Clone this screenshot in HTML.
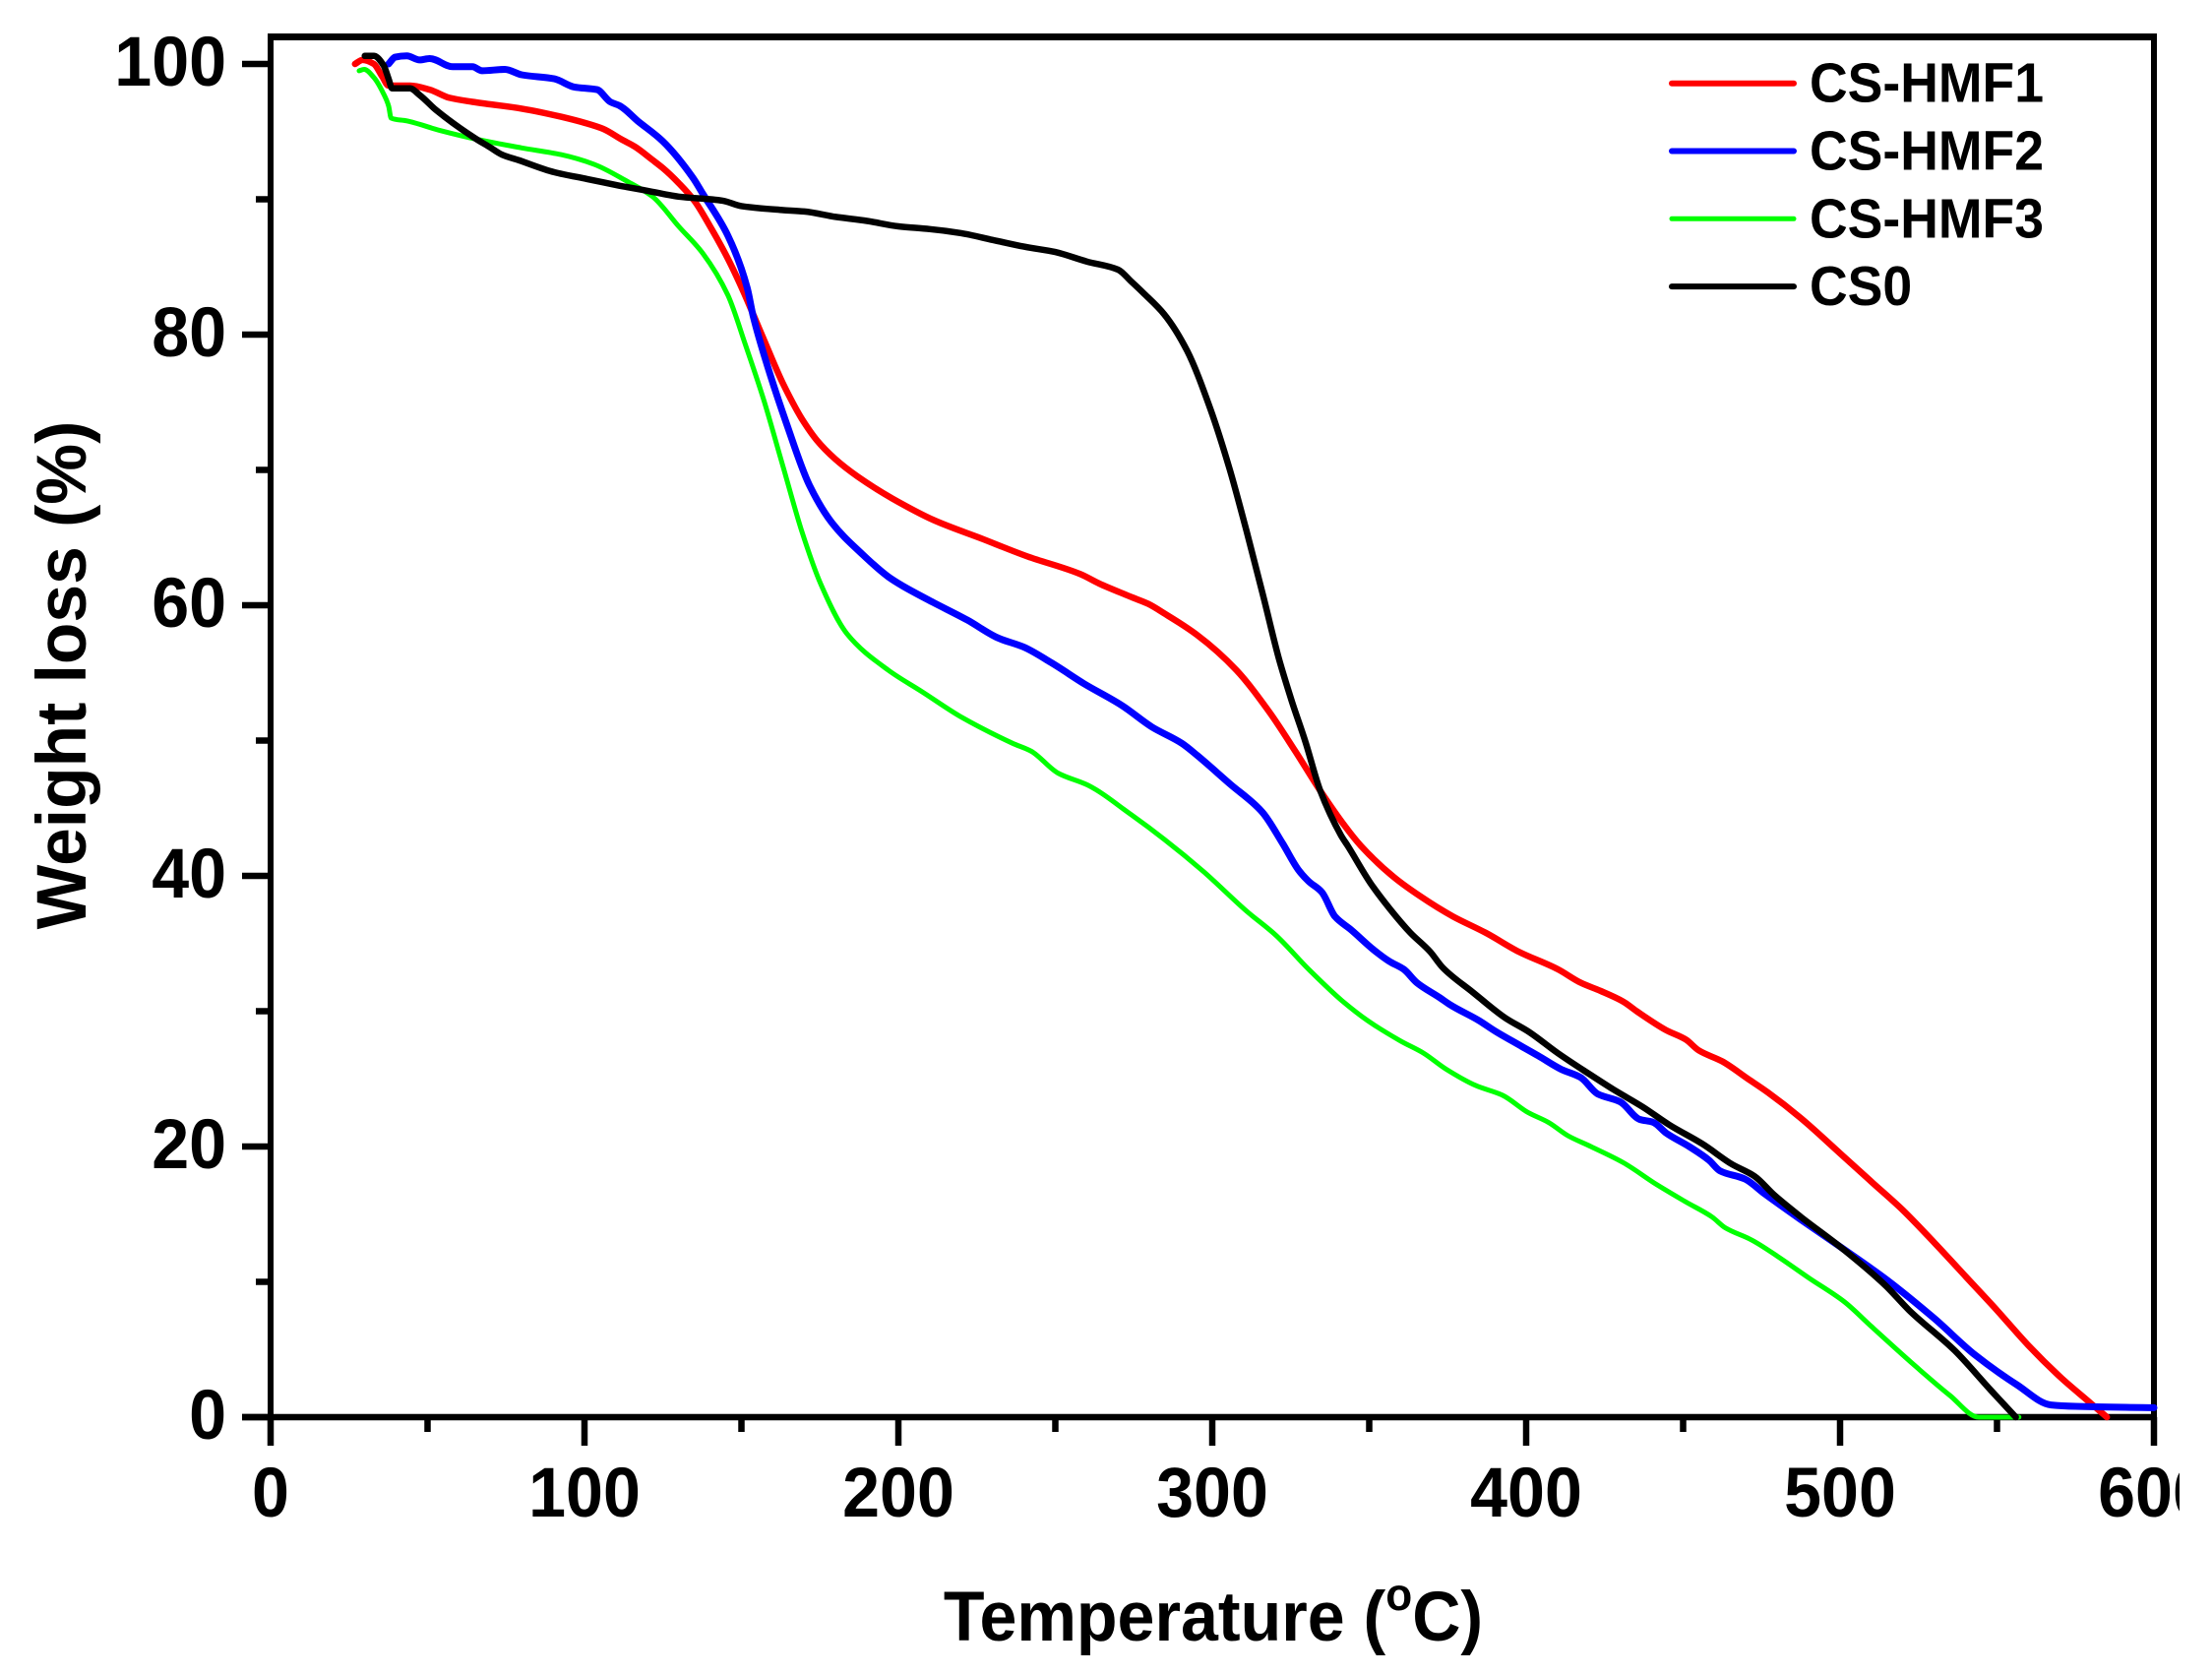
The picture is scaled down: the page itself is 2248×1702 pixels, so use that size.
<!DOCTYPE html>
<html lang="en">
<head>
<meta charset="utf-8">
<title>Weight loss vs temperature</title>
<style>
html,body{margin:0;padding:0;background:#fff;width:2248px;height:1702px;overflow:hidden}
svg{display:block}
text{font-family:"Liberation Sans",Arial,sans-serif;font-weight:700;fill:#000}
</style>
</head>
<body>
<svg id="chart" xmlns="http://www.w3.org/2000/svg" width="2248" height="1702" viewBox="0 0 2248 1702">
  <rect width="2248" height="1702" fill="#fff"/>
  <g id="axes"></g>
  <g id="series"></g>
  <g id="legend"></g>
  <text transform="translate(1233 1667) scale(0.96 1)" font-size="71" text-anchor="middle">Temperature (<tspan dy="-31" font-size="46">o</tspan><tspan dy="31">C)</tspan></text>
  <text transform="translate(87 686) rotate(-90) scale(0.98 1)" font-size="71" text-anchor="middle">Weight loss (%)</text>
  <rect x="2215" y="0" width="33" height="1702" fill="#fff"/>
</svg>
<script>
const xMajorTicks = [0, 100, 200, 300, 400, 500, 600];
const xMinorTicks = [50, 150, 250, 350, 450, 550];
const yMajorTicks = [0, 20, 40, 60, 80, 100];
const yMinorTicks = [10, 30, 50, 70, 90];

const hmf1Temps = [26.9,29.3,32.9,35.5,37.6,44.4,50.7,57,64.3,80,92.5,100.8,106,112,116,121.7,125,130,135,140,145.7,150.6,157.2,163.2,169.2,174,179.9,187.1,198,211.2,226.8,241.2,258,264,274.3,279.6,284.7,295.2,307.7,318.2,326.5,334.4,342.2,347.4,357.9,366.2,376.7,387.1,397.6,410.1,417.4,423.7,431,435.2,444.6,450.9,455,462.4,470.7,477,487.5,500,510,520,530,540,550,560,570,580,585];
const hmf1Weights = [100,100.3,100,99.1,98.4,98.4,98.1,97.5,97.2,96.7,96.1,95.6,95.2,94.4,93.9,92.9,92.3,91.2,89.9,88.0,85.6,83.2,79.6,76.4,73.8,72.2,70.8,69.5,67.9,66.3,64.9,63.6,62.3,61.6,60.6,60.1,59.4,57.8,55.2,52.1,49.2,46.3,43.7,42.2,39.9,38.5,37,35.8,34.4,33.1,32.1,31.5,30.7,30,28.6,27.9,27.1,26.3,25,24,22.1,19.5,17.4,15.3,12.9,10.4,7.9,5.3,3,1,0];

const hmf2Temps = [37.6,39.7,43.4,47.5,50.7,58,64.3,67.4,74.6,80,90.4,96.7,104,108.2,111.3,116.9,124.9,134.5,137.7,145.7,151.8,153.6,158.4,164.4,171.6,178.8,188.4,196.8,201.6,211.2,222,231.6,240,248.4,259.2,271.2,280.8,290.3,295.2,305.6,316,322.4,327.6,330.7,334.9,339.1,344.3,351.6,356.3,361,365.2,372.5,375.6,385,390.3,398.6,403.9,411.2,417.4,422.7,430,436.2,440.4,444.6,451.9,458.2,461.8,469.7,476,487.5,500,514.6,530,543,556.3,567.2,575,600];
const hmf2Weights = [100,100.5,100.6,100.3,100.4,99.8,99.8,99.5,99.6,99.2,98.9,98.3,98.1,97.2,96.9,95.8,94.3,91.6,90.4,87.3,83.5,81.5,77.6,73.4,68.9,66.1,63.8,62.1,61.4,60.2,58.9,57.6,56.9,55.8,54.2,52.6,51,49.8,48.9,46.8,44.7,42.4,40.4,39.6,38.8,37,36,34.5,33.7,33.1,32.1,31,30.5,29.3,28.5,27.4,26.7,25.7,25.1,23.9,23.3,22,21.8,21,20,19,18.2,17.6,16.5,14.6,12.6,10.2,7.3,4.6,2.4,0.9,0.8,0.7];

const hmf3Temps = [28.2,29.8,32.9,36,37.6,38.4,43.4,53.8,66.4,80,92.5,102.9,113.8,121.7,130,137.7,145.7,151.2,157.2,163.2,169.2,175.2,183.6,196.8,207.6,219.6,236.4,242.4,250.8,260.4,274.3,284.7,297.3,310.9,320.3,330.7,341.2,349.5,360,367.3,374.6,384,392.4,400.7,407,413.3,420.6,431,441.5,450.9,459.2,463.4,471.8,480,490,501.5,510,523.4,535,544.2,557];
const hmf3Weights = [99.5,99.6,99.0,97.8,96.9,96,95.8,95.1,94.4,93.8,93.3,92.6,91.3,90.2,88.0,86,82.9,79.3,75.1,70.3,65.5,61.6,57.9,55.2,53.6,51.8,49.8,49.2,47.6,46.7,44.5,42.7,40.3,37.4,35.6,33.1,30.8,29.3,27.8,26.9,25.7,24.5,23.8,22.5,21.8,20.8,20,18.8,17.2,15.9,14.8,14,13.1,11.9,10.3,8.5,6.7,3.9,1.6,0,0];

const cs0Temps = [30,32.9,36,37.6,38.7,44.4,47.5,52.7,65.2,69.5,73.7,78.9,90.4,100.8,111.3,118.5,130,144,150,163.3,170,180,190,200,210,220,230,240,250,260,270,274.3,278.4,284.7,292,299.4,305.6,310.9,316,321.3,325.5,329.7,334.4,341,343.2,350.6,356.8,363.1,369.4,373.5,383,393.4,400.7,410.1,418.5,427.9,437.3,445.6,456.1,465.5,472.8,479.1,487.5,500,514.6,522,536.6,548,556];
const cs0Weights = [100.6,100.6,99.9,98.9,98.2,98.2,97.7,96.6,94.5,93.9,93.3,92.9,92,91.5,91,90.7,90.2,89.9,89.5,89.2,89.1,88.7,88.4,88.0,87.8,87.5,87.0,86.5,86.1,85.4,84.8,83.9,83.0,81.5,78.8,74.5,70,65.5,60.9,56,52.8,49.9,46.3,43,42.2,39.4,37.5,35.8,34.4,33.2,31.4,29.5,28.5,26.9,25.6,24.2,22.9,21.6,20.2,18.7,17.8,16.4,14.8,12.6,9.7,7.9,4.9,2.0,0];

const seriesNames = ['CS-HMF1', 'CS-HMF2', 'CS-HMF3', 'CS0'];
const seriesTemps = [hmf1Temps, hmf2Temps, hmf3Temps, cs0Temps];
const seriesWeights = [hmf1Weights, hmf2Weights, hmf3Weights, cs0Weights];
const seriesColors = ['#ff0000', '#0000ff', '#00ff00', '#000000'];
const seriesWidths = [6.5, 7, 5, 6.5];

const NS = 'http://www.w3.org/2000/svg';
const plotLeft = 275, plotRight = 2189, plotTop = 37.5, plotBottom = 1440, yAt100 = 65;
const xScale = function (v) { return plotLeft + (plotRight - plotLeft) * v / 600; };
const yScale = function (v) { return plotBottom - (plotBottom - yAt100) * v / 100; };

const axes = document.getElementById('axes');
const seriesGroup = document.getElementById('series');
const legendGroup = document.getElementById('legend');

function line(parent, x1, y1, x2, y2, w) {
  const el = document.createElementNS(NS, 'line');
  el.setAttribute('x1', x1);
  el.setAttribute('y1', y1);
  el.setAttribute('x2', x2);
  el.setAttribute('y2', y2);
  el.setAttribute('stroke', '#000');
  el.setAttribute('stroke-width', w);
  parent.appendChild(el);
  return el;
}
function label(parent, x, y, size, anchor, str, sx) {
  const el = document.createElementNS(NS, 'text');
  el.setAttribute('transform', 'translate(' + x + ' ' + y + ') scale(' + sx + ' 1)');
  el.setAttribute('font-size', size);
  el.setAttribute('text-anchor', anchor);
  el.textContent = str;
  parent.appendChild(el);
  return el;
}
function monotonePath(temps, weights) {
  const xs = temps.map(xScale);
  const ys = weights.map(yScale);
  const n = xs.length;
  const d = [];
  for (let i = 0; i < n - 1; i++) d.push((ys[i + 1] - ys[i]) / (xs[i + 1] - xs[i]));
  const m = [d[0]];
  for (let i = 1; i < n - 1; i++) {
    if (d[i - 1] * d[i] <= 0) { m.push(0); continue; }
    const h0 = xs[i] - xs[i - 1], h1 = xs[i + 1] - xs[i];
    const w1 = 2 * h1 + h0, w2 = h1 + 2 * h0;
    m.push((w1 + w2) / (w1 / d[i - 1] + w2 / d[i]));
  }
  m.push(d[n - 2]);
  let s = 'M' + xs[0].toFixed(1) + ' ' + ys[0].toFixed(1);
  for (let i = 0; i < n - 1; i++) {
    const h = (xs[i + 1] - xs[i]) / 3;
    s += 'C' + (xs[i] + h).toFixed(1) + ' ' + (ys[i] + m[i] * h).toFixed(1) + ' ' +
         (xs[i + 1] - h).toFixed(1) + ' ' + (ys[i + 1] - m[i + 1] * h).toFixed(1) + ' ' +
         xs[i + 1].toFixed(1) + ' ' + ys[i + 1].toFixed(1);
  }
  return s;
}

const frameTop = line(axes, plotLeft - 3, plotTop, plotRight + 3, plotTop, 7);


const frameRight = line(axes, plotRight, plotTop, plotRight, plotBottom + 29, 6);


const frameLeft = line(axes, plotLeft, plotTop, plotLeft, plotBottom + 29, 6);


const frameBottom = line(axes, plotLeft - 29, plotBottom, plotRight + 3, plotBottom, 6.5);



xMajorTicks.forEach(function (v) {
  const t = line(axes, xScale(v), plotBottom, xScale(v), plotBottom + 29, 6.5);
  
  
  const l = label(axes, xScale(v), 1541, 71, 'middle', String(v), 0.96);
  
  
});
xMinorTicks.forEach(function (v) {
  const t = line(axes, xScale(v), plotBottom, xScale(v), plotBottom + 15, 6.5);
  
  
});
yMajorTicks.forEach(function (v) {
  const t = line(axes, plotLeft - 29, yScale(v), plotLeft, yScale(v), 6.5);
  
  
  const l = label(axes, 230, yScale(v) + 22, 71, 'end', String(v), 0.96);
  
  
});
yMinorTicks.forEach(function (v) {
  const t = line(axes, plotLeft - 15, yScale(v), plotLeft, yScale(v), 6.5);
  
  
});

seriesNames.forEach(function (name, i) {
  const p = document.createElementNS(NS, 'path');
  p.setAttribute('d', monotonePath(seriesTemps[i], seriesWeights[i]));
  p.setAttribute('fill', 'none');
  p.setAttribute('stroke', seriesColors[i]);
  p.setAttribute('stroke-width', seriesWidths[i]);
  p.setAttribute('stroke-linejoin', 'round');
  p.setAttribute('stroke-linecap', 'round');
  
  
  seriesGroup.appendChild(p);

  const rowY = 84.7 + i * 68.8;
  const swatch = line(legendGroup, 1699, rowY, 1823, rowY, i === 2 ? 5 : 6);
  swatch.setAttribute('stroke', seriesColors[i]);
  swatch.setAttribute('stroke-linecap', 'round');
  
  
  const text = label(legendGroup, 1839, rowY + 19, 57, 'start', name, 0.94);
  
  
});
</script>
</body>
</html>
